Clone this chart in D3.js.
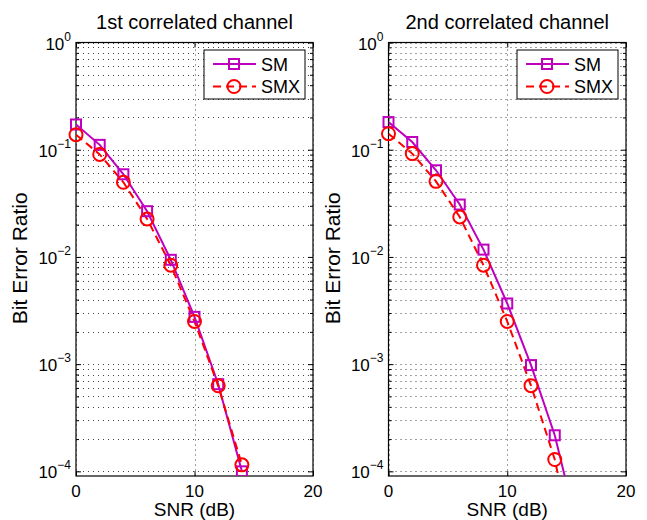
<!DOCTYPE html>
<html lang="en">

<head>
    <meta charset="UTF-8">
    <title>BER vs SNR</title>
    <style>
        body {
            margin: 0;
            background: #fff;
        }

        svg {
            display: block;
            font-family: "Liberation Sans", Arial, sans-serif;
        }
    </style>
</head>

<body>
    <svg width="647" height="520" viewBox="0 0 647 520"></svg>

    <script src="https://cdn.jsdelivr.net/npm/d3@7"></script>
    <script>
        // 数据
        const snr = [0, 2, 4, 6, 8, 10, 12, 14, 16];
        const titles = ['1st correlated channel', '2nd correlated channel'];
        const seriesNames = ['SM', 'SMX'];
        const sm1 = [0.172, 0.111, 0.059, 0.0267, 0.0094, 0.00276, 6.5e-4, 1.0e-4];
        const smx1 = [0.138, 0.0904, 0.0497, 0.0226, 0.00837, 0.0025, 6.28e-4, 1.15e-4];
        const sm2 = [0.181, 0.118, 0.0643, 0.0308, 0.0117, 0.00368, 9.8e-4, 2.17e-4, 2.7e-5];
        const smx2 = [0.141, 0.092, 0.0507, 0.0236, 0.00837, 0.0025, 6.3e-4, 1.29e-4, 1.2e-5];
        const xTicks = [0, 10, 20];
        const yTicks = [1e-4, 1e-3, 1e-2, 1e-1, 1];

        const panels = [
            { left: 76, right: 313, title: titles[0], data: [sm1, smx1] },
            { left: 388.5, right: 626, title: titles[1], data: [sm2, smx2] }
        ];
        const plotTop = 42.5, plotBottom = 476;
        const yMin = 9.05e-5;
        const colors = ['#bf00bf', '#ff0000'];

        var svg = d3.select('svg');

        // 小刻度 2..9 x 10^k
        var minor = [];
        for (var k = -5; k < 0; k++) {
            for (var m = 2; m <= 9; m++) {
                var v = m * Math.pow(10, k);
                if (v >= yMin && v < 1) minor.push(v);
            }
        }

        panels.forEach(function (p, pi) {
            var x = d3.scaleLinear().domain([0, 20]).range([p.left, p.right]);
            var y = d3.scaleLog().domain([yMin, 1]).range([plotBottom, plotTop]);
            var g = svg.append('g');

            // 网格 (点线)
            var grid = g.append('g').attr('stroke', '#444').attr('stroke-width', 1)
                .attr('stroke-dasharray', '1,4').attr('fill', 'none');
            grid.selectAll('.gy').data(yTicks.concat(minor)).enter().append('line')
                .attr('x1', p.left + 2).attr('x2', p.right)
                .attr('y1', d => Math.round(y(d)) + 0.5).attr('y2', d => Math.round(y(d)) + 0.5);
            grid.selectAll('.gx').data(xTicks).enter().append('line')
                .attr('x1', d => Math.round(x(d)) + 0.5).attr('x2', d => Math.round(x(d)) + 0.5)
                .attr('y1', plotTop + 2).attr('y2', plotBottom);

            // 坐标轴 (刻度朝内)
            g.append('g').attr('transform', 'translate(' + p.left + ',0)')
                .call(d3.axisLeft(y).tickValues(yTicks).tickSize(-5).tickFormat(''));
            g.append('g').attr('transform', 'translate(' + p.right + ',0)')
                .call(d3.axisRight(y).tickValues(yTicks).tickSize(-5).tickFormat(''));
            g.append('g').attr('transform', 'translate(' + p.left + ',0)')
                .call(d3.axisLeft(y).tickValues(minor).tickSize(-3).tickFormat(''));
            g.append('g').attr('transform', 'translate(' + p.right + ',0)')
                .call(d3.axisRight(y).tickValues(minor).tickSize(-3).tickFormat(''));
            g.append('g').attr('transform', 'translate(0,' + plotBottom + ')')
                .call(d3.axisBottom(x).tickValues(xTicks).tickSize(-5).tickFormat(''));
            g.append('g').attr('transform', 'translate(0,' + plotTop + ')')
                .call(d3.axisTop(x).tickValues(xTicks).tickSize(-5).tickFormat(''));
            g.selectAll('.domain').remove();
            g.selectAll('.tick line').attr('stroke', '#000');

            g.append('rect').attr('x', p.left).attr('y', plotTop)
                .attr('width', p.right - p.left).attr('height', plotBottom - plotTop)
                .attr('fill', 'none').attr('stroke', '#000').attr('stroke-width', 1.2);

            // 刻度文字
            g.selectAll('.xl').data(xTicks).enter().append('text')
                .attr('x', d => x(d)).attr('y', 497)
                .attr('text-anchor', 'middle').attr('font-size', 17).text(d => d);
            var yl = g.selectAll('.yl').data(yTicks).enter().append('text')
                .attr('x', p.left - 5).attr('y', d => y(d) + 7)
                .attr('text-anchor', 'end').attr('font-size', 17);
            yl.append('tspan').text('10');
            yl.append('tspan').attr('dy', -9).attr('font-size', 12)
                .text(d => { var e = Math.round(Math.log10(d)); return e < 0 ? '\u2212' + (-e) : e; });

            // 标题和轴标题
            var cx = (p.left + p.right) / 2;
            g.append('text').attr('x', cx).attr('y', 29).attr('text-anchor', 'middle')
                .attr('font-size', 20).text(p.title);
            g.append('text').attr('x', cx).attr('y', 516).attr('text-anchor', 'middle')
                .attr('font-size', 19).text('SNR (dB)');
            g.append('text').attr('transform', 'translate(' + (p.left - 49) + ',' + ((plotTop + plotBottom) / 2 - 1) + ') rotate(-90)')
                .attr('text-anchor', 'middle').attr('font-size', 21).text('Bit Error Ratio');

            // 曲线
            var clipId = 'clip' + pi;
            svg.append('clipPath').attr('id', clipId).append('rect')
                .attr('x', p.left).attr('y', plotTop).attr('width', p.right - p.left).attr('height', plotBottom - plotTop);

            var line = d3.line().x((d, i) => x(snr[i])).y(d => y(d));
            p.data.forEach(function (vals, si) {
                g.append('path').datum(vals).attr('d', line)
                    .attr('clip-path', 'url(#' + clipId + ')')
                    .attr('fill', 'none').attr('stroke', colors[si]).attr('stroke-width', 2)
                    .attr('stroke-dasharray', si === 1 ? '8,5' : null);
            });
            p.data.forEach(function (vals, si) {
                var pts = vals.map((v, i) => [snr[i], v]).filter(d => d[1] >= yMin);
                if (si === 0) {
                    g.selectAll('.sq').data(pts).enter().append('rect')
                        .attr('x', d => x(d[0]) - 5).attr('y', d => y(d[1]) - 5)
                        .attr('width', 10).attr('height', 10)
                        .attr('clip-path', d => d[1] < 1.3e-4 ? 'url(#' + clipId + ')' : null)
                        .attr('fill', 'none').attr('stroke', colors[0]).attr('stroke-width', 2);
                } else {
                    g.selectAll('.ci').data(pts).enter().append('circle')
                        .attr('cx', d => x(d[0])).attr('cy', d => y(d[1])).attr('r', 6.5)
                        .attr('fill', 'none').attr('stroke', colors[1]).attr('stroke-width', 2);
                }
            });

            // 图例
            var lx = p.right - 109, ly = 50;
            var lg = g.append('g');
            lg.append('rect').attr('x', lx).attr('y', ly).attr('width', 101).attr('height', 49)
                .attr('fill', '#fff').attr('stroke', '#000').attr('stroke-width', 1);
            seriesNames.forEach(function (name, si) {
                var yy = ly + 14 + si * 22.5;
                lg.append('line').attr('x1', lx + 9).attr('x2', lx + 52).attr('y1', yy).attr('y2', yy)
                    .attr('stroke', colors[si]).attr('stroke-width', 2)
                    .attr('stroke-dasharray', si === 1 ? '8,5' : null);
                if (si === 0) {
                    lg.append('rect').attr('x', lx + 25).attr('y', yy - 5).attr('width', 10).attr('height', 10)
                        .attr('fill', 'none').attr('stroke', colors[0]).attr('stroke-width', 2);
                } else {
                    lg.append('circle').attr('cx', lx + 30).attr('cy', yy).attr('r', 6.5)
                        .attr('fill', 'none').attr('stroke', colors[1]).attr('stroke-width', 2);
                }
                lg.append('text').attr('x', lx + 57).attr('y', yy + 6.5).attr('font-size', 18).text(name);
            });
        });
    </script>
</body>

</html>
